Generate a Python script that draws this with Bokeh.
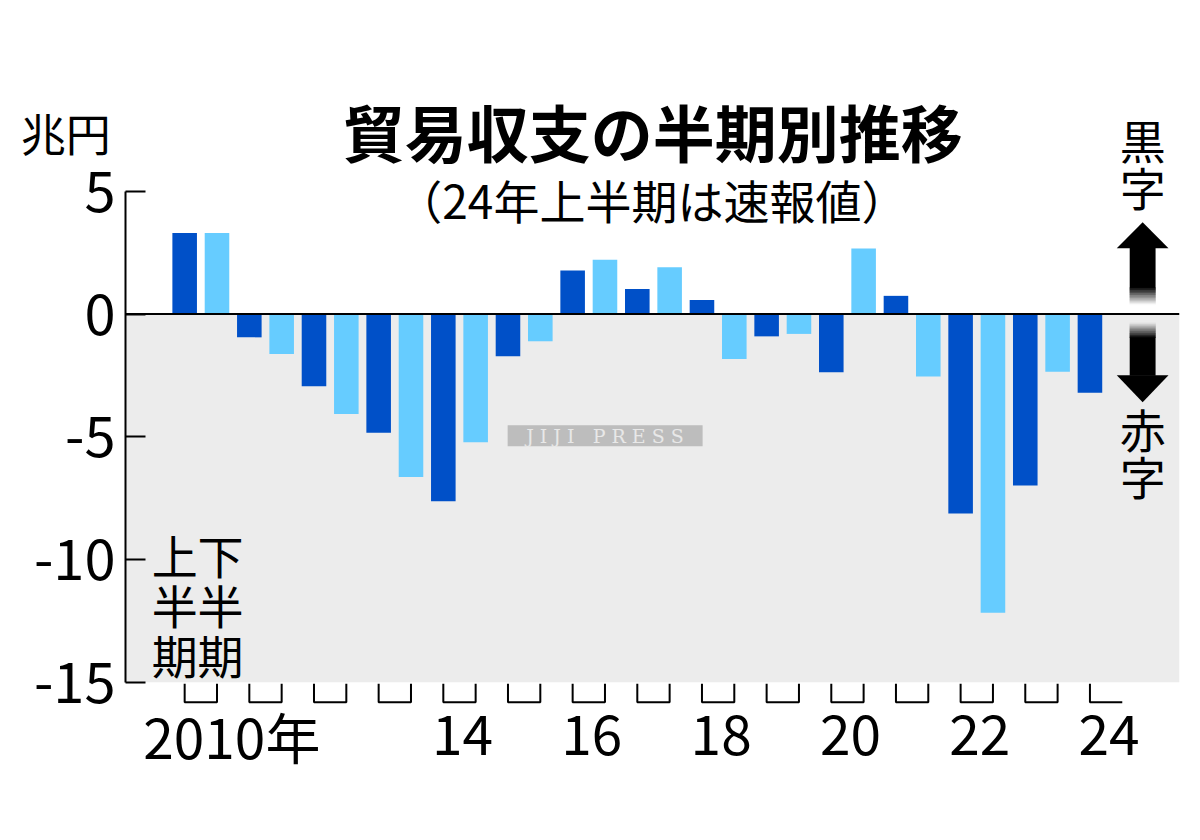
from bokeh.plotting import figure
from bokeh.models import Range1d, FixedTicker, BoxAnnotation, Span, Label, ColumnDataSource
from bokeh.embed import file_html
from bokeh.resources import INLINE
from bokeh.core.properties import value

# ---------------- data ----------------
years = list(range(2010, 2025))
halves = ["上半期", "下半期"]
balance = [3.30, 3.30, -0.95, -1.63, -2.94, -4.07, -4.84, -6.64, -7.63, -5.22,
           -1.72, -1.11, 1.77, 2.21, 1.02, 1.90, 0.57, -1.83, -0.91, -0.81,
           -2.37, 2.67, 0.74, -2.55, -8.12, -12.17, -6.98, -2.35, -3.21]
y_ticks = [5, 0, -5, -10, -15]
y_tick_labels = ["5", "0", "-5", "-10", "-15"]
label_years = [2010, 2014, 2016, 2018, 2020, 2022, 2024]
year_labels = ["2010年", "14", "16", "18", "20", "22", "24"]
half_colors = ["#0050c8", "#66ccff"]

FONT = "Noto Sans CJK JP"

# ---------------- figure ----------------
W, H = 1184, 824
p = figure(width=W, height=H, output_backend="svg", toolbar_location=None,
           x_range=Range1d(-1.83, 30.77), y_range=Range1d(-19, 10),
           x_axis_location=None,
           min_border_left=125, min_border_right=5,
           min_border_top=68, min_border_bottom=44)
p.outline_line_color = None
p.grid.grid_line_color = None
p.background_fill_color = "white"
p.border_fill_color = "white"

ax = p.yaxis[0]
ax.ticker = FixedTicker(ticks=y_ticks)
ax.major_label_overrides = {t: s for t, s in zip(y_ticks, y_tick_labels)}
ax.bounds = (-15, 5)
ax.axis_line_width = 2
ax.axis_line_color = "black"
ax.major_tick_in = 20
ax.major_tick_out = 0
ax.major_tick_line_width = 2
ax.major_tick_line_color = "black"
ax.minor_tick_line_color = None
ax.major_label_text_font = FONT
ax.major_label_text_font_size = "56px"
ax.major_label_text_color = "black"
ax.major_label_standoff = 10

# deficit zone background
p.add_layout(BoxAnnotation(bottom=-15, top=0, fill_color="#ececec", fill_alpha=1,
                           line_color=None, level="underlay"))

# ---------------- bars ----------------
xs, cols = [], []
for i, v in enumerate(balance):
    xs.append(i)
    cols.append(half_colors[i % 2])
src = ColumnDataSource(dict(x=xs, top=balance, color=cols))
p.vbar(x="x", top="top", bottom=0, width=0.76, fill_color="color", line_color=None, source=src)

p.add_layout(Span(location=0, dimension="width", line_color="black", line_width=2))

# ---------------- year brackets ----------------
b_top, b_bot = -15.06, -15.81
bx, by = [], []
n = len(balance)
for k, yr in enumerate(years):
    i0 = k * 2
    if i0 + 1 < n:
        bx.append([i0, i0, i0 + 1, i0 + 1])
        by.append([b_top, b_bot, b_bot, b_top])
    else:
        bx.append([i0, i0, i0 + 1])
        by.append([b_top, b_bot, b_bot])
p.multi_line(xs=bx, ys=by, line_color="black", line_width=2)

lx = [(yr - years[0]) * 2 + 0.5 for yr in label_years]
loff = [31 if t.endswith("年") else 3 for t in year_labels]
p.text(x=lx, y=[-17.16] * len(lx), text=year_labels, x_offset=loff,
       text_font=value(FONT), text_font_size=value("55px"),
       text_align="center", text_baseline="middle", text_color="black")

# ---------------- texts ----------------
p.text(x=[14.48], y=[7.44], text=["貿易収支の半期別推移"], text_font=value(FONT),
       text_font_size=value("62px"), text_font_style="bold",
       text_align="center", text_baseline="middle", text_color="black")
p.text(x=[14.45], y=[4.68], text=["（24年上半期は速報値）"], text_font=value(FONT),
       text_font_size=value("46px"), text_align="center", text_baseline="middle",
       text_color="black")

# unit label sits left of the frame: put it in a side panel so it is not clipped
p.add_layout(Label(x=-5.07, y=7.40, text="兆円", text_font=FONT, text_font_size="45px",
                   text_align="left", text_baseline="middle", text_color="black"), "above")

# vertical texts, one character per row
def vtext(x, chars, y_rows, size):
    p.text(x=[x] * len(chars), y=y_rows, text=chars, text_font=value(FONT),
           text_font_size=value(size), text_align="center", text_baseline="middle",
           text_color="black")

row_y = [(313.8 - yy) / 24.55 for yy in (553.5, 604.0, 654.0)]
vtext(-0.31, list("上半期"), row_y, "46px")
vtext(1.11, list("下半期"), row_y, "46px")

arrow_x = 29.63
vtext(arrow_x, list("黒字"), [(313.8 - 139) / 24.55, (313.8 - 186) / 24.55], "46px")
vtext(arrow_x, list("赤字"), [(313.8 - 428) / 24.55, (313.8 - 475) / 24.55], "46px")

# ---------------- arrows ----------------
hw, sw = 0.80, 0.40
p.patch([arrow_x - hw, arrow_x, arrow_x + hw], [2.68, 3.74, 2.68], color="black", line_width=0)
p.quad(left=[arrow_x - sw], right=[arrow_x + sw], top=[2.70], bottom=[1.05], color="black", line_width=0)
p.patch([arrow_x - hw, arrow_x, arrow_x + hw], [-2.49, -3.59, -2.49], color="black", line_width=0)
p.quad(left=[arrow_x - sw], right=[arrow_x + sw], top=[-0.94], bottom=[-2.51], color="black", line_width=0)


def mix(c0, c1, t):
    r = [round(a + (b - a) * t) for a, b in zip(c0, c1)]
    return "#%02x%02x%02x" % tuple(r)


steps = 24
up_t, up_b = 1.06, 0.36       # fades black -> white (downwards)
dn_t, dn_b = -0.33, -0.95     # fades grey -> black (downwards)
for s in range(steps):
    f = (s + 0.5) / steps
    # upper arrow: draw from light (bottom) to dark; slight overlap
    t = up_t - (up_t - up_b) * s / steps
    b = up_t - (up_t - up_b) * (s + 1) / steps
    p.quad(left=[arrow_x - sw], right=[arrow_x + sw], top=[t + 0.02], bottom=[b],
           fill_color=mix((0, 0, 0), (255, 255, 255), f), line_color=None)
for s in reversed(range(steps)):
    f = (s + 0.5) / steps
    t2 = dn_t - (dn_t - dn_b) * s / steps
    b2 = dn_t - (dn_t - dn_b) * (s + 1) / steps
    p.quad(left=[arrow_x - sw], right=[arrow_x + sw], top=[t2], bottom=[b2 - 0.02],
           fill_color=mix((236, 236, 236), (0, 0, 0), f), line_color=None)

# ---------------- watermark ----------------
p.quad(left=[9.99], right=[16.02], top=[-4.53], bottom=[-5.385], fill_color="#bdbdbd",
       line_color=None)
p.text(x=[13.0], y=[-4.96], text=["J\u00a0I\u00a0J\u00a0I\u00a0\u00a0\u00a0P\u00a0R\u00a0E\u00a0S\u00a0S"],
       text_font=value("DejaVu Serif"),
       text_font_size=value("19px"), text_align="center", text_baseline="middle",
       text_color="#e8e8e8")

open("out.html", "w").write(file_html(p, INLINE))
